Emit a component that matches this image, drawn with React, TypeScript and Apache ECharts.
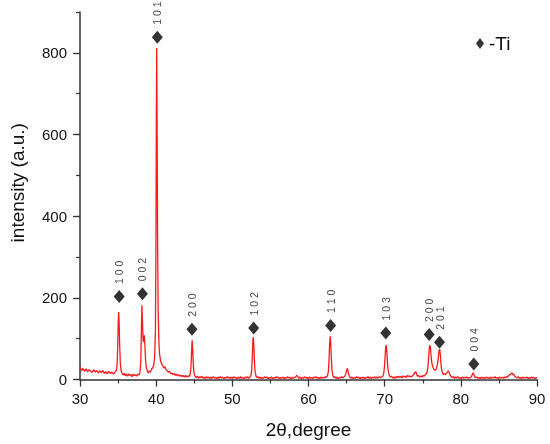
import React, { useEffect, useRef } from 'react';
import * as echarts from 'echarts';

// XRD scan, [2θ, intensity]
const scan30to35: number[][] = [
  [30.0, 30], [30.2, 22], [30.4, 27], [30.6, 20], [30.8, 26], [31.0, 19], [31.2, 24], [31.4, 21],
  [31.6, 17], [31.8, 24], [32.0, 18], [32.2, 22], [32.4, 16], [32.6, 21], [32.8, 17], [33.0, 22],
  [33.2, 15], [33.4, 19], [33.6, 14], [33.8, 20], [34.0, 15], [34.2, 18], [34.4, 13], [34.6, 18],
  [34.75, 21], [34.87, 35], [34.96, 85], [35.02, 140], [35.08, 165], [35.14, 138], [35.21, 82], [35.3, 38],
  [35.4, 22], [35.5, 16],
];
const scan35to41: number[][] = [
  [35.65, 11], [35.8, 15], [35.95, 9], [36.1, 13], [36.25, 8], [36.4, 14], [36.55, 10], [36.7, 12],
  [36.85, 7], [37.0, 13], [37.15, 9], [37.3, 12], [37.45, 8], [37.6, 13], [37.75, 11], [37.88, 18],
  [37.98, 45], [38.06, 120], [38.13, 182], [38.2, 140], [38.28, 96], [38.36, 92], [38.44, 108], [38.52, 85],
  [38.6, 50], [38.7, 30], [38.82, 22], [38.95, 16], [39.1, 21], [39.25, 18], [39.4, 26], [39.55, 28],
  [39.68, 35], [39.8, 55], [39.9, 120], [39.97, 320], [40.02, 620], [40.07, 812], [40.12, 640], [40.18, 360],
  [40.26, 170], [40.35, 95], [40.45, 62], [40.58, 46], [40.72, 38], [40.85, 34],
];
const scan41to46: number[][] = [
  [41.0, 28], [41.15, 31], [41.3, 24], [41.45, 22], [41.6, 18], [41.75, 20], [41.9, 14], [42.05, 16],
  [42.2, 12], [42.35, 15], [42.5, 10], [42.65, 13], [42.8, 9], [42.95, 12], [43.1, 8], [43.25, 11],
  [43.4, 7], [43.55, 10], [43.7, 6], [43.85, 10], [44.0, 6], [44.15, 9], [44.3, 7], [44.45, 12],
  [44.56, 28], [44.64, 62], [44.72, 96], [44.8, 72], [44.88, 35], [44.98, 15], [45.1, 8], [45.25, 5],
  [45.4, 8],
];
const scan46to55: number[][] = [
  [45.55, 3], [45.7, 7], [45.85, 4], [46.0, 8], [46.15, 3], [46.3, 6], [46.45, 2], [46.6, 7],
  [46.75, 4], [46.9, 6], [47.05, 2], [47.2, 6], [47.35, 3], [47.5, 7], [47.65, 4], [47.8, 5],
  [47.95, 2], [48.1, 6], [48.25, 3], [48.4, 7], [48.55, 4], [48.7, 6], [48.85, 2], [49.0, 5],
  [49.15, 3], [49.3, 7], [49.45, 4], [49.6, 6], [49.75, 2], [49.9, 6], [50.05, 3], [50.2, 7],
  [50.35, 4], [50.5, 5], [50.65, 2], [50.8, 6], [50.95, 3], [51.1, 7], [51.25, 3], [51.4, 5],
  [51.55, 2], [51.7, 6], [51.85, 4], [52.0, 7], [52.15, 3], [52.3, 6], [52.42, 9], [52.53, 20],
  [52.62, 55], [52.7, 95], [52.76, 104], [52.83, 80], [52.91, 40], [53.0, 18], [53.1, 9], [53.22, 5],
  [53.35, 7], [53.5, 3], [53.65, 6], [53.8, 2], [53.95, 5], [54.1, 3], [54.25, 7], [54.4, 4],
  [54.55, 6], [54.7, 2], [54.85, 5],
];
const scan55to66: number[][] = [
  [55.0, 3], [55.15, 6], [55.3, 2], [55.45, 5], [55.6, 3], [55.75, 7], [55.9, 4], [56.05, 6],
  [56.2, 2], [56.35, 5], [56.5, 3], [56.65, 6], [56.8, 2], [56.95, 5], [57.1, 3], [57.25, 7],
  [57.4, 4], [57.55, 5], [57.7, 2], [57.85, 6], [58.0, 3], [58.15, 5], [58.3, 6], [58.45, 10],
  [58.6, 7], [58.75, 3], [58.9, 6], [59.05, 2], [59.2, 5], [59.35, 3], [59.5, 7], [59.65, 4],
  [59.8, 5], [59.95, 2], [60.1, 6], [60.25, 3], [60.4, 5], [60.55, 2], [60.7, 6], [60.85, 4],
  [61.0, 7], [61.15, 3], [61.3, 5], [61.45, 2], [61.6, 6], [61.75, 3], [61.9, 5], [62.05, 4],
  [62.2, 7], [62.35, 5], [62.48, 9], [62.6, 18], [62.7, 50], [62.78, 90], [62.85, 106], [62.92, 90],
  [63.0, 50], [63.09, 22], [63.2, 10], [63.32, 5], [63.45, 7], [63.6, 3], [63.75, 6], [63.9, 2],
  [64.05, 5], [64.2, 4], [64.35, 7], [64.5, 4], [64.65, 6], [64.8, 9], [64.92, 15], [65.02, 24],
  [65.1, 27], [65.2, 20], [65.3, 11], [65.42, 6], [65.55, 3], [65.7, 6], [65.85, 2],
];
const scan66to75: number[][] = [
  [66.0, 5], [66.15, 3], [66.3, 7], [66.45, 4], [66.6, 6], [66.75, 2], [66.9, 5], [67.05, 3],
  [67.2, 6], [67.35, 2], [67.5, 5], [67.65, 4], [67.8, 7], [67.95, 3], [68.1, 6], [68.25, 2],
  [68.4, 5], [68.55, 4], [68.7, 7], [68.85, 3], [69.0, 6], [69.15, 4], [69.3, 7], [69.45, 4],
  [69.6, 6], [69.75, 8], [69.87, 14], [69.98, 32], [70.07, 60], [70.15, 82], [70.22, 84], [70.3, 62],
  [70.39, 35], [70.5, 18], [70.62, 10], [70.75, 6], [70.9, 8], [71.05, 4], [71.2, 6], [71.35, 3],
  [71.5, 7], [71.65, 5], [71.8, 8], [71.95, 5], [72.1, 7], [72.25, 4], [72.4, 9], [72.55, 6],
  [72.7, 8], [72.85, 5], [73.0, 10], [73.15, 7], [73.3, 9], [73.45, 6], [73.6, 8], [73.75, 11],
  [73.88, 14], [74.0, 18], [74.1, 19], [74.2, 13], [74.32, 8], [74.45, 10], [74.6, 6], [74.75, 9],
  [74.9, 6], [75.05, 10], [75.2, 8], [75.35, 12],
];
const scan75to82: number[][] = [
  [75.48, 14], [75.6, 20], [75.7, 34], [75.8, 62], [75.88, 80], [75.95, 84], [76.02, 76], [76.1, 56],
  [76.2, 40], [76.3, 32], [76.42, 26], [76.55, 24], [76.66, 22], [76.78, 27], [76.9, 34], [77.0, 46],
  [77.08, 62], [77.16, 72], [77.23, 74], [77.3, 62], [77.38, 40], [77.48, 24], [77.6, 16], [77.72, 12],
  [77.85, 14], [78.0, 12], [78.12, 16], [78.24, 18], [78.35, 21], [78.46, 18], [78.58, 11], [78.7, 8],
  [78.85, 5], [79.0, 7], [79.15, 3], [79.3, 6], [79.45, 4], [79.6, 7], [79.75, 3], [79.9, 5],
  [80.05, 2], [80.2, 6], [80.35, 3], [80.5, 5], [80.65, 4], [80.8, 6], [80.95, 3], [81.1, 5],
  [81.25, 4], [81.38, 7], [81.48, 11], [81.57, 15], [81.65, 16], [81.74, 11], [81.85, 6], [81.98, 4],
];
const scan82to90: number[][] = [
  [82.1, 6], [82.25, 3], [82.4, 5], [82.55, 2], [82.7, 6], [82.85, 3], [83.0, 5], [83.15, 2],
  [83.3, 6], [83.45, 4], [83.6, 5], [83.75, 2], [83.9, 6], [84.05, 3], [84.2, 5], [84.35, 4],
  [84.5, 7], [84.65, 3], [84.8, 5], [84.95, 2], [85.1, 6], [85.25, 4], [85.4, 5], [85.55, 3],
  [85.7, 6], [85.85, 4], [86.0, 7], [86.12, 6], [86.25, 9], [86.38, 12], [86.5, 11], [86.62, 15],
  [86.72, 16], [86.84, 12], [86.96, 13], [87.08, 8], [87.2, 6], [87.35, 4], [87.5, 7], [87.65, 3],
  [87.8, 5], [87.95, 2], [88.1, 6], [88.25, 3], [88.4, 5], [88.55, 4], [88.7, 6], [88.85, 2],
  [89.0, 5], [89.15, 3], [89.3, 6], [89.45, 4], [89.6, 5], [89.75, 2], [89.9, 5], [90.0, 4],
];

// Ti reflections (diamond markers)
const reflections = ['100', '002', '101', '200', '102', '110', '103', '200', '201', '004'];
const markerTheta = [35.15, 38.2, 40.15, 44.7, 52.8, 62.9, 70.15, 75.85, 77.2, 81.7];
const markerHeight = [203, 210, 838, 123, 126, 132, 114, 110, 91, 38];

const yMajorTicks = [0, 200, 400, 600, 800];

export default function App() {
  const ref = useRef<HTMLDivElement>(null);
  useEffect(() => {
    if (!ref.current) return;
    const chart = echarts.init(ref.current, null, { renderer: 'svg' });
    const font = '"Liberation Sans", Arial, Helvetica, sans-serif';
    const scan = [
      ...scan30to35, ...scan35to41, ...scan41to46, ...scan46to55,
      ...scan55to66, ...scan66to75, ...scan75to82, ...scan82to90,
    ];
    const markers = markerTheta.map((t, i) => ({ value: [t, markerHeight[i]], name: reflections[i] }));
    const axisColor = '#333';
    chart.setOption({
      animation: false,
      textStyle: { fontFamily: font },
      grid: { left: 80, right: 13, top: 12, bottom: 64.5, containLabel: false },
      legend: {
        show: true,
        data: [{ name: '-Ti', icon: 'diamond' }],
        left: 476,
        top: 34,
        padding: 0,
        itemWidth: 8,
        itemHeight: 11,
        textStyle: { fontSize: 19, color: '#111', fontFamily: font },
      },
      xAxis: {
        type: 'value',
        min: 30,
        max: 90,
        interval: 10,
        name: '2θ,degree',
        nameLocation: 'middle',
        nameGap: 40,
        nameTextStyle: { fontSize: 19, color: '#111', fontFamily: font },
        axisLine: { lineStyle: { color: axisColor, width: 1.5 } },
        axisTick: { show: true, inside: false, length: 7, lineStyle: { color: axisColor, width: 1.3 } },
        minorTick: { show: true, splitNumber: 2, length: 4, lineStyle: { color: axisColor, width: 1.2 } },
        axisLabel: { fontSize: 15, color: '#111', margin: 11, fontFamily: font },
        splitLine: { show: false },
      },
      yAxis: [
        {
          type: 'value',
          min: 0,
          max: 900,
          interval: 100,
          name: 'intensity (a.u.)',
          nameLocation: 'middle',
          nameGap: 53,
          nameTextStyle: { fontSize: 19, color: '#111', fontFamily: font, padding: [0, 0, 0, 26] },
          axisLine: { show: true, lineStyle: { color: axisColor, width: 1.5 } },
          axisTick: { show: true, inside: false, length: 4, lineStyle: { color: axisColor, width: 1.2 } },
          axisLabel: {
            fontSize: 15,
            color: '#111',
            margin: 13,
            fontFamily: font,
            formatter: (v: number) => (v % 200 === 0 ? String(v) : ''),
          },
          splitLine: { show: false },
        },
        {
          type: 'value',
          min: 0,
          max: 900,
          position: 'left',
          axisLine: { show: false },
          axisTick: { show: true, inside: false, customValues: yMajorTicks, length: 7, lineStyle: { color: axisColor, width: 1.3 } },
          axisLabel: { show: false },
          splitLine: { show: false },
        },
      ],
      series: [
        {
          type: 'line',
          name: 'scan',
          data: scan,
          symbol: 'none',
          showSymbol: false,
          lineStyle: { color: '#ff1a1a', width: 1.3 },
          z: 2,
        },
        {
          type: 'scatter',
          name: '-Ti',
          data: markers,
          symbol: 'diamond',
          symbolSize: [11, 13],
          itemStyle: { color: '#000' },
          label: {
            show: true,
            position: 'top',
            distance: 6,
            rotate: 90,
            align: 'left',
            verticalAlign: 'middle',
            fontSize: 10.5,
            color: '#111',
            fontFamily: font,
            formatter: (p: any) => String(p.name).split('').join(' '),
          },
          z: 3,
        },
      ],
    });
    return () => chart.dispose();
  }, []);
  return <div ref={ref} style={{ position: 'fixed', left: 0, top: 0, width: 550, height: 444 }} />;
}
